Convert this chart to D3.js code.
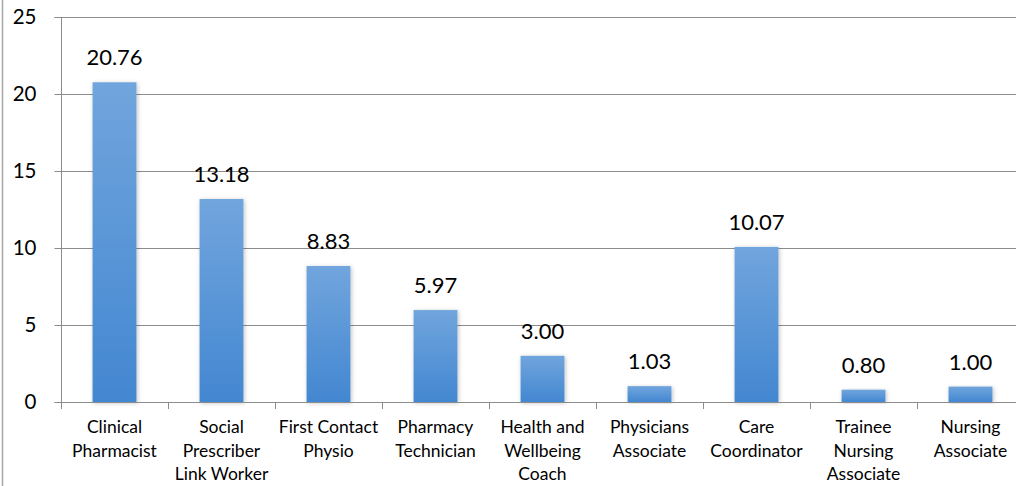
<!DOCTYPE html>
<html><head><meta charset="utf-8">
<script src="https://cdn.jsdelivr.net/npm/d3@7"></script>
<style>body{margin:0;background:#fff;overflow:hidden}svg{display:block}text{font-family:Lato, "Noto Sans", sans-serif;fill:#000}</style>
</head><body><svg id="c" width="1016" height="486"></svg>
<script>
const categories = [["Clinical","Pharmacist"],["Social","Prescriber","Link Worker"],["First Contact","Physio"],["Pharmacy","Technician"],["Health and","Wellbeing","Coach"],["Physicians","Associate"],["Care","Coordinator"],["Trainee","Nursing","Associate"],["Nursing","Associate"]];
const values = [20.76,13.18,8.83,5.97,3.00,1.03,10.07,0.80,1.00];
const yTicks = [0,5,10,15,20,25];

const svg = d3.select("#c");
const pLeft = 61, pRight = 1024, pTop = 17, pBottom = 402;
const ids = categories.map((d,i)=>i);
const x = d3.scaleBand().domain(ids).range([pLeft,pRight]).paddingInner(0.59).paddingOuter(0.295);
const y = d3.scaleLinear().domain([0,25]).range([pBottom,pTop]);

const defs = svg.append("defs");
const g = defs.append("linearGradient").attr("id","bg").attr("x1",0).attr("y1",0).attr("x2",0).attr("y2",1);
g.append("stop").attr("offset","0%").attr("stop-color","#71a5dd");
g.append("stop").attr("offset","100%").attr("stop-color","#4387d1");
const f = defs.append("filter").attr("id","sh").attr("x","-20%").attr("y","-10%").attr("width","140%").attr("height","120%");
f.append("feDropShadow").attr("dx",1).attr("dy",1).attr("stdDeviation",2).attr("flood-color","#000").attr("flood-opacity",0.25);

// left border
svg.append("line").attr("x1",2.5).attr("x2",2.5).attr("y1",0).attr("y2",486).attr("stroke","#a6a6a6").attr("stroke-width",1.5);

// gridlines
svg.append("g").selectAll("line").data(yTicks.filter(t=>t>0)).join("line")
  .attr("x1",pLeft).attr("x2",1016).attr("y1",d=>Math.round(y(d))+0.5).attr("y2",d=>Math.round(y(d))+0.5)
  .attr("stroke","#8c8c8c").attr("stroke-width",1);

// y axis
const ya = svg.append("g").attr("transform",`translate(${pLeft+0.5},0)`)
  .call(d3.axisLeft(y).tickValues(yTicks).tickSize(7).tickPadding(18).tickFormat(d3.format("d")));
ya.select(".domain").attr("stroke","#8c8c8c").attr("d",`M-7,${pTop+0.5}H0V${pBottom+0.5}H-7`);
ya.selectAll(".tick line").attr("stroke","#8c8c8c");
ya.selectAll(".tick text").attr("font-size",20.5).attr("font-family","Lato, sans-serif").attr("fill","#000");

// bars
svg.append("g").selectAll("rect").data(values).join("rect")
  .attr("x",(d,i)=>x(i)).attr("width",x.bandwidth())
  .attr("y",d=>y(d)).attr("height",d=>pBottom-y(d))
  .attr("fill","url(#bg)").attr("filter","url(#sh)");

// x axis
const xa = d3.scaleLinear().domain([0,categories.length]).range([pLeft,pRight]);
svg.append("line").attr("x1",pLeft).attr("x2",1016).attr("y1",pBottom+0.5).attr("y2",pBottom+0.5).attr("stroke","#8c8c8c");
svg.append("g").selectAll("line").data(d3.range(categories.length+1)).join("line")
  .attr("x1",d=>Math.round(xa(d))+0.5).attr("x2",d=>Math.round(xa(d))+0.5)
  .attr("y1",pBottom).attr("y2",pBottom+7).attr("stroke","#8c8c8c");

// value labels
svg.append("g").selectAll("text").data(values).join("text")
  .attr("x",(d,i)=>x(i)+x.bandwidth()/2).attr("y",d=>y(d)-17)
  .attr("text-anchor","middle").attr("font-size",22).text(d=>d.toFixed(2));

// category labels
const cl = svg.append("g").selectAll("text").data(categories).join("text")
  .attr("x",(d,i)=>x(i)+x.bandwidth()/2).attr("y",433).attr("text-anchor","middle").attr("font-size",17.5);
cl.selectAll("tspan").data(d=>d).join("tspan")
  .attr("x",function(){return this.parentNode.getAttribute("x");})
  .attr("dy",(d,i)=>i===0?0:23.5).text(d=>d);
</script></body></html>
